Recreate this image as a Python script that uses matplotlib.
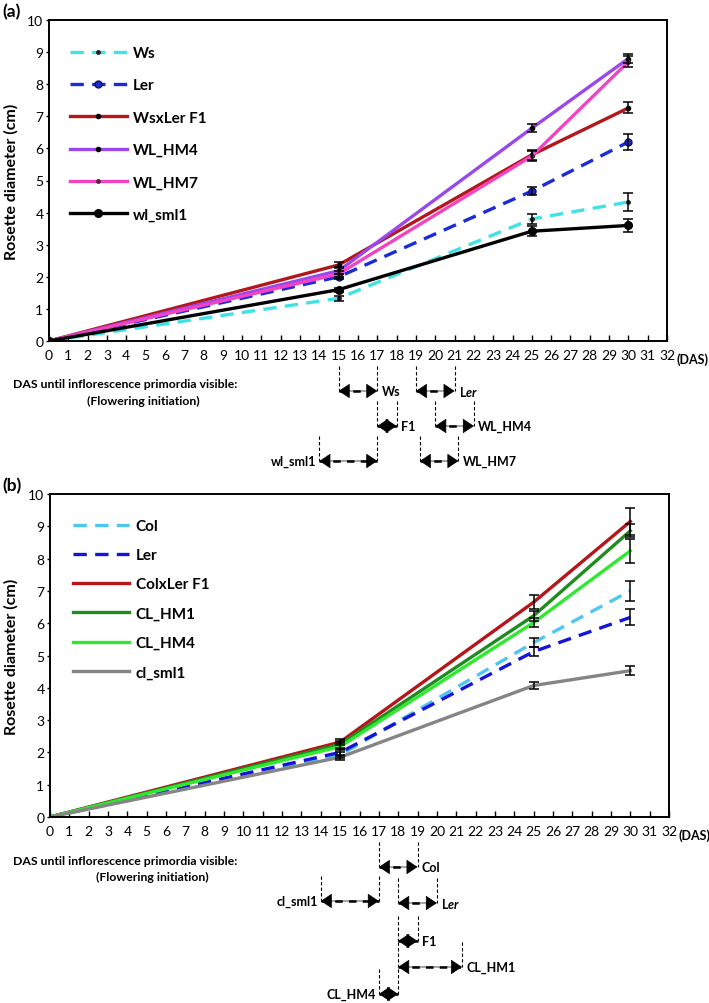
import numpy as np
import matplotlib.pyplot as plt
from matplotlib.transforms import blended_transform_factory

plt.rcParams['font.family'] = ['Lato', 'DejaVu Sans']
plt.rcParams['mathtext.fontset'] = 'custom'
plt.rcParams['mathtext.rm'] = 'Lato:bold'
plt.rcParams['mathtext.it'] = 'Lato:italic:bold'
plt.rcParams['mathtext.bf'] = 'Lato:bold'

# days after sowing where rosette diameter was measured
das = [0, 15, 25, 30]

# panel (a): Ws x Ler
a_names = ['Ws', 'Ler', 'WsxLer F1', 'WL_HM4', 'WL_HM7', 'wl_sml1']
a_ws = [0, 1.33, 3.80, 4.33]
a_ler = [0, 2.00, 4.67, 6.20]
a_f1 = [0, 2.37, 5.80, 7.26]
a_hm4 = [0, 2.19, 6.63, 8.80]
a_hm7 = [0, 2.09, 5.76, 8.70]
a_sml1 = [0, 1.60, 3.42, 3.60]
a_ws_err = [0, 0.08, 0.15, 0.27]
a_ler_err = [0, 0.08, 0.12, 0.25]
a_f1_err = [0, 0.10, 0.15, 0.17]
a_hm4_err = [0, 0.10, 0.12, 0.15]
a_hm7_err = [0, 0.10, 0.15, 0.17]
a_sml1_err = [0, 0.06, 0.15, 0.20]

# panel (b): Col x Ler
b_names = ['Col', 'Ler', 'ColxLer F1', 'CL_HM1', 'CL_HM4', 'cl_sml1']
b_col = [0, 1.92, 5.40, 7.00]
b_ler = [0, 2.00, 5.12, 6.18]
b_f1 = [0, 2.32, 6.65, 9.15]
b_hm1 = [0, 2.25, 6.23, 8.86]
b_hm4 = [0, 2.18, 6.02, 8.24]
b_sml1 = [0, 1.85, 4.07, 4.53]
b_col_err = [0, 0.08, 0.15, 0.30]
b_ler_err = [0, 0.10, 0.15, 0.25]
b_f1_err = [0, 0.10, 0.22, 0.42]
b_hm1_err = [0, 0.10, 0.15, 0.20]
b_hm4_err = [0, 0.10, 0.15, 0.37]
b_sml1_err = [0, 0.08, 0.10, 0.13]

# flowering initiation intervals (DAS)
a_fl_names = ['Ws', 'L$\\mathit{er}$', 'F1', 'WL_HM4', 'wl_sml1', 'WL_HM7']
a_fl_start = [15, 19, 17, 20, 14, 19.2]
a_fl_end = [17, 21, 18, 22, 17, 21.2]
b_fl_names = ['Col', 'cl_sml1', 'L$\\mathit{er}$', 'F1', 'CL_HM1', 'CL_HM4']
b_fl_start = [17, 14, 18, 18, 18, 17]
b_fl_end = [19, 17, 20, 19, 21.3, 18]

W, H = 709, 1004
fig = plt.figure(figsize=(W / 100, H / 100), dpi=100)


def px_axes(left, top, right, bottom):
    return [left / W, 1 - bottom / H, (right - left) / W, (bottom - top) / H]


ax1 = fig.add_axes(px_axes(49, 21, 667, 342))
ax2 = fig.add_axes(px_axes(50, 495, 669, 818))

dash = (4, 2.5)
a_styles = [
    dict(color='#3EE3E8', dashes=dash, marker='o', ms=2.5, mfc='#222222', mec='#222222'),
    dict(color='#1C2BD8', dashes=dash, marker='o', ms=5, mfc='#1C2BD8', mec='#111155'),
    dict(color='#B3161B', marker='o', ms=3, mfc='black', mec='black'),
    dict(color='#9A47EC', marker='o', ms=3, mfc='black', mec='black'),
    dict(color='#F243C3', marker='o', ms=2.5, mfc='#552244', mec='#552244'),
    dict(color='black', marker='o', ms=5.5, mfc='black', mec='black'),
]
b_styles = [
    dict(color='#4FC6F2', dashes=dash),
    dict(color='#1414DD', dashes=dash),
    dict(color='#B5161A'),
    dict(color='#1E8C1E'),
    dict(color='#2EEA2E'),
    dict(color='#858585'),
]

a_vals = [a_ws, a_ler, a_f1, a_hm4, a_hm7, a_sml1]
a_errs = [a_ws_err, a_ler_err, a_f1_err, a_hm4_err, a_hm7_err, a_sml1_err]
b_vals = [b_col, b_ler, b_f1, b_hm1, b_hm4, b_sml1]
b_errs = [b_col_err, b_ler_err, b_f1_err, b_hm1_err, b_hm4_err, b_sml1_err]


def setup_axes(ax):
    ax.set_xlim(0, 32)
    ax.set_ylim(0, 10)
    ax.set_xticks(range(0, 33))
    ax.set_yticks(range(0, 11))
    ax.tick_params(axis='x', direction='in', length=4, width=1, pad=6, labelsize=10)
    ax.tick_params(axis='y', direction='out', length=2, width=1, pad=2, labelsize=10)
    for s in ax.spines.values():
        s.set_linewidth(1.4)
    ax.set_ylabel('Rosette diameter (cm)', fontsize=11.5, fontweight='bold')
    ax.yaxis.set_label_coords(-0.05, 0.5)
    ax.text(32.5, -0.055, '(DAS)', transform=blended_transform_factory(ax.transData, ax.transAxes),
            fontsize=9, fontweight='bold', ha='left', va='center')


def plot_panel(ax, names, vals, errs, styles, spacing, anchor_y, anchor_x):
    for name, v, e, st in zip(names, vals, errs, styles):
        ax.errorbar(das, v, yerr=e, fmt='none', ecolor='black', elinewidth=1.1,
                    capsize=3.5, capthick=1.1, zorder=3)
    for name, v, e, st in zip(names, vals, errs, styles):
        ax.plot(das, v, lw=2.4, label=name, zorder=2, **st)
    ax.legend(loc='upper left', bbox_to_anchor=(anchor_x, anchor_y), frameon=False,
              borderpad=0, borderaxespad=0, handlelength=3.7, handletextpad=0.4,
              labelspacing=spacing, prop=dict(size=11, weight='bold'))


def draw_flowering(ax, names, starts, ends, rows_px, sides):
    trans = blended_transform_factory(ax.transData, ax.transAxes)
    h = ax.get_position().height * H
    for name, s, e, r, side in zip(names, starts, ends, rows_px, sides):
        y = -r / h
        ytop = -(r - 25) / h
        for xv in (s, e):
            ax.plot([xv, xv], [ytop, y], transform=trans, color='black', lw=0.8,
                    ls=(0, (3, 2)), clip_on=False)
        # dashed shaft, then solid filled heads on top
        ax.plot([s, e], [y, y], transform=trans, color='black', lw=1.8,
                ls=(0, (3, 2.5)), clip_on=False)
        ax.annotate('', xy=(e, y), xytext=(s, y), xycoords=trans, textcoords=trans,
                    annotation_clip=False,
                    arrowprops=dict(arrowstyle='<|-|>,head_length=0.36,head_width=0.24',
                                    mutation_scale=20, facecolor='black', edgecolor='black',
                                    lw=0.5, shrinkA=0, shrinkB=0))
        if side == 'r':
            ax.annotate(name, xy=(e, y), xycoords=trans, xytext=(3, 0),
                        textcoords='offset points', ha='left', va='center',
                        fontsize=9, fontweight='bold', annotation_clip=False)
        else:
            ax.annotate(name, xy=(s, y), xycoords=trans, xytext=(-2, 0),
                        textcoords='offset points', ha='right', va='center',
                        fontsize=9, fontweight='bold', annotation_clip=False)


setup_axes(ax1)
setup_axes(ax2)
plot_panel(ax1, a_names, a_vals, a_errs, a_styles, 1.2, 0.919, 0.034)
plot_panel(ax2, b_names, b_vals, b_errs, b_styles, 1.0, 0.923, 0.037)

draw_flowering(ax1, a_fl_names, a_fl_start, a_fl_end,
               [50, 50, 85, 85, 120, 120], ['r', 'r', 'r', 'r', 'l', 'r'])
draw_flowering(ax2, b_fl_names, b_fl_start, b_fl_end,
               [50, 84, 86, 124, 150, 177], ['r', 'l', 'r', 'r', 'r', 'l'])

for ytxt1, ytxt2, xc2 in [(385, 401, 143), (862, 877, 152)]:
    fig.text(125 / W, 1 - ytxt1 / H, 'DAS until inflorescence primordia visible:',
             ha='center', va='center', fontsize=8.8, fontweight='bold')
    fig.text(xc2 / W, 1 - ytxt2 / H, '(Flowering initiation)',
             ha='center', va='center', fontsize=8.8, fontweight='bold')

fig.text(2 / W, 1 - 12 / H, '(a)', ha='left', va='center', fontsize=12.5, fontweight='bold')
fig.text(2 / W, 1 - 486 / H, '(b)', ha='left', va='center', fontsize=12.5, fontweight='bold')

fig.savefig('out.png', dpi=100)
